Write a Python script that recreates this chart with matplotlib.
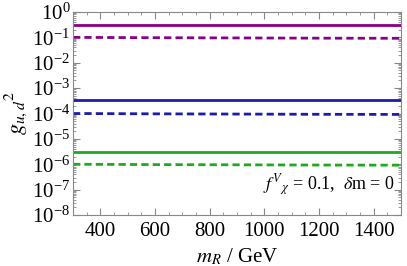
import matplotlib
matplotlib.use("Agg")
import matplotlib.pyplot as plt
import numpy as np
from matplotlib.ticker import LogLocator, MultipleLocator, NullFormatter

plt.rcParams["font.family"] = ["Liberation Serif", "DejaVu Serif"]
plt.rcParams["mathtext.fontset"] = "stix"

m_r = [300, 600, 900, 1200, 1500]
purple_solid = [0.30, 0.30, 0.30, 0.30, 0.30]
purple_dashed = [0.100, 0.097, 0.095, 0.093, 0.092]
blue_solid = [3.3e-4, 3.3e-4, 3.3e-4, 3.3e-4, 3.3e-4]
blue_dashed = [1.0e-4, 0.97e-4, 0.95e-4, 0.93e-4, 0.92e-4]
green_solid = [3.0e-6, 3.0e-6, 3.0e-6, 3.0e-6, 3.0e-6]
green_dashed = [1.0e-6, 0.97e-6, 0.95e-6, 0.93e-6, 0.92e-6]

fig = plt.figure(figsize=(4.07, 2.66), dpi=100)
ax = fig.add_axes([73 / 407, 51 / 266, 328 / 407, 203 / 266])

dash = (0, (2.6, 1.5))
ax.plot(m_r, purple_solid, color="#880088", lw=2)
ax.plot(m_r, purple_dashed, color="#880088", lw=2, ls=dash)
ax.plot(m_r, blue_solid, color="#1c1ca8", lw=2)
ax.plot(m_r, blue_dashed, color="#1c1ca8", lw=2, ls=dash)
ax.plot(m_r, green_solid, color="#20a820", lw=2)
ax.plot(m_r, green_dashed, color="#20a820", lw=2, ls=dash)

ax.set_yscale("log")
ax.set_xlim(300, 1500)
ax.set_ylim(1e-8, 1)
ax.xaxis.set_major_locator(MultipleLocator(200))
ax.xaxis.set_minor_locator(MultipleLocator(50))
ax.yaxis.set_major_locator(LogLocator(base=10, numticks=20))
ax.yaxis.set_minor_locator(LogLocator(base=10, subs=np.arange(2, 10), numticks=20))
ax.yaxis.set_minor_formatter(NullFormatter())

for s in ax.spines.values():
    s.set_color("#888888")
ax.tick_params(which="both", direction="in", top=True, right=True, color="#888888", labelsize=15)
ax.tick_params(which="major", length=5)
ax.tick_params(which="minor", length=2.5)
ax.tick_params(axis="x", pad=5)
ax.tick_params(axis="y", pad=2)

ax.set_xlabel("$m_R$ / GeV", fontsize=15)
ax.set_ylabel("$g_{u,d}{}^2$", fontsize=16, labelpad=2)
ax.text(0.98, 0.085, r"$f^V{}_{\chi}$ = 0.1,  $\delta$m = 0", transform=ax.transAxes,
        ha="right", va="bottom", fontsize=13)

fig.savefig("out.png", dpi=100)
